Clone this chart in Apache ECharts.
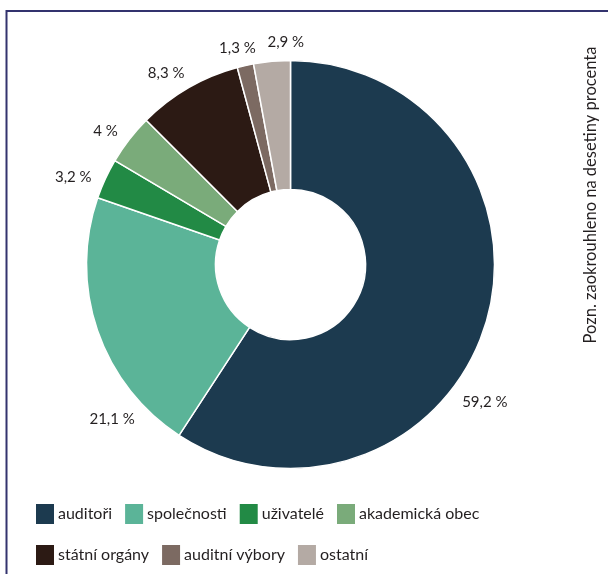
<!DOCTYPE html>
<html>
<head>
<meta charset="utf-8">
<script src="https://cdn.jsdelivr.net/npm/echarts@6/dist/echarts.min.js"></script>
<style>
html,body{margin:0;padding:0;background:#fff;}
#c{width:608px;height:574px;}
</style>
</head>
<body>
<div id="c"></div>
<script>
const categories = ['auditoři', 'společnosti', 'uživatelé', 'akademická obec', 'státní orgány', 'auditní výbory', 'ostatní'];
const values = [59.2, 21.1, 3.2, 4, 8.3, 1.3, 2.9];
const colors = ['#1c3a4f', '#5bb498', '#228a45', '#7aab7a', '#2c1a14', '#7c6a62', '#b4aaa4'];
const legendRow1 = ['auditoři', 'společnosti', 'uživatelé', 'akademická obec'];
const legendRow2 = ['státní orgány', 'auditní výbory', 'ostatní'];
const note = 'Pozn. zaokrouhleno na desetiny procenta';

// label placement tweaks (angle shift in degrees, distance from centre in px)
const labelAngleShift = [18.7, -22, -3, -2, -3, -1, 4];
const labelDist = [238, 236, 234, 228, 228, 223, 222];

const CX = 290.5, CY = 264.5, R_OUT = 204, R_IN = 75;
const FONT = 'Lato, "Liberation Sans", sans-serif';

function fmt(v) { return String(v).replace('.', ',') + ' %'; }

const total = values.reduce((a, b) => a + b, 0);
const cum = [];
values.reduce((acc, v, i) => { cum[i] = acc; return acc + v; }, 0);

const legendText = {fontFamily: FONT, fontSize: 16, color: '#231f20', padding: [0, 0, 0, -2]};

const chart = echarts.init(document.getElementById('c'), null, {renderer: 'canvas'});
chart.setOption({
  animation: false,
  backgroundColor: '#fff',
  color: colors,
  legend: [
    {
      data: legendRow1, left: 29, top: 497, itemWidth: 20, itemHeight: 22, itemGap: 11,
      icon: 'rect', selectedMode: false, textStyle: legendText
    },
    {
      data: legendRow2, left: 29, top: 538, itemWidth: 20, itemHeight: 22, itemGap: 11,
      icon: 'rect', selectedMode: false, textStyle: legendText
    }
  ],
  graphic: [
    {
      type: 'rect', silent: true,
      shape: {x: 6.5, y: 11, width: 800, height: 800},
      style: {fill: 'none', stroke: '#33336e', lineWidth: 2}
    },
    {
      type: 'text', silent: true,
      x: 591, y: 195, rotation: Math.PI / 2,
      style: {text: note, fontFamily: FONT, fontSize: 16.5, fill: '#231f20', align: 'center', verticalAlign: 'middle'}
    }
  ],
  series: [{
    type: 'pie',
    center: [CX, CY],
    radius: [R_IN, R_OUT],
    startAngle: 90,
    clockwise: true,
    avoidLabelOverlap: false,
    itemStyle: {borderColor: '#fff', borderWidth: 1.5},
    label: {
      show: true, position: 'outside',
      fontFamily: FONT, fontSize: 15, color: '#231f20',
      formatter: p => fmt(p.value)
    },
    labelLine: {show: false},
    emphasis: {disabled: true},
    labelLayout: function (params) {
      const i = params.dataIndex;
      const mid = (cum[i] + values[i] / 2) / total * 360 + labelAngleShift[i];
      const a = mid * Math.PI / 180;
      return {
        x: CX + labelDist[i] * Math.sin(a),
        y: CY - labelDist[i] * Math.cos(a),
        align: 'center', verticalAlign: 'middle'
      };
    },
    data: categories.map((n, i) => ({name: n, value: values[i]}))
  }]
});
</script>
</body>
</html>
